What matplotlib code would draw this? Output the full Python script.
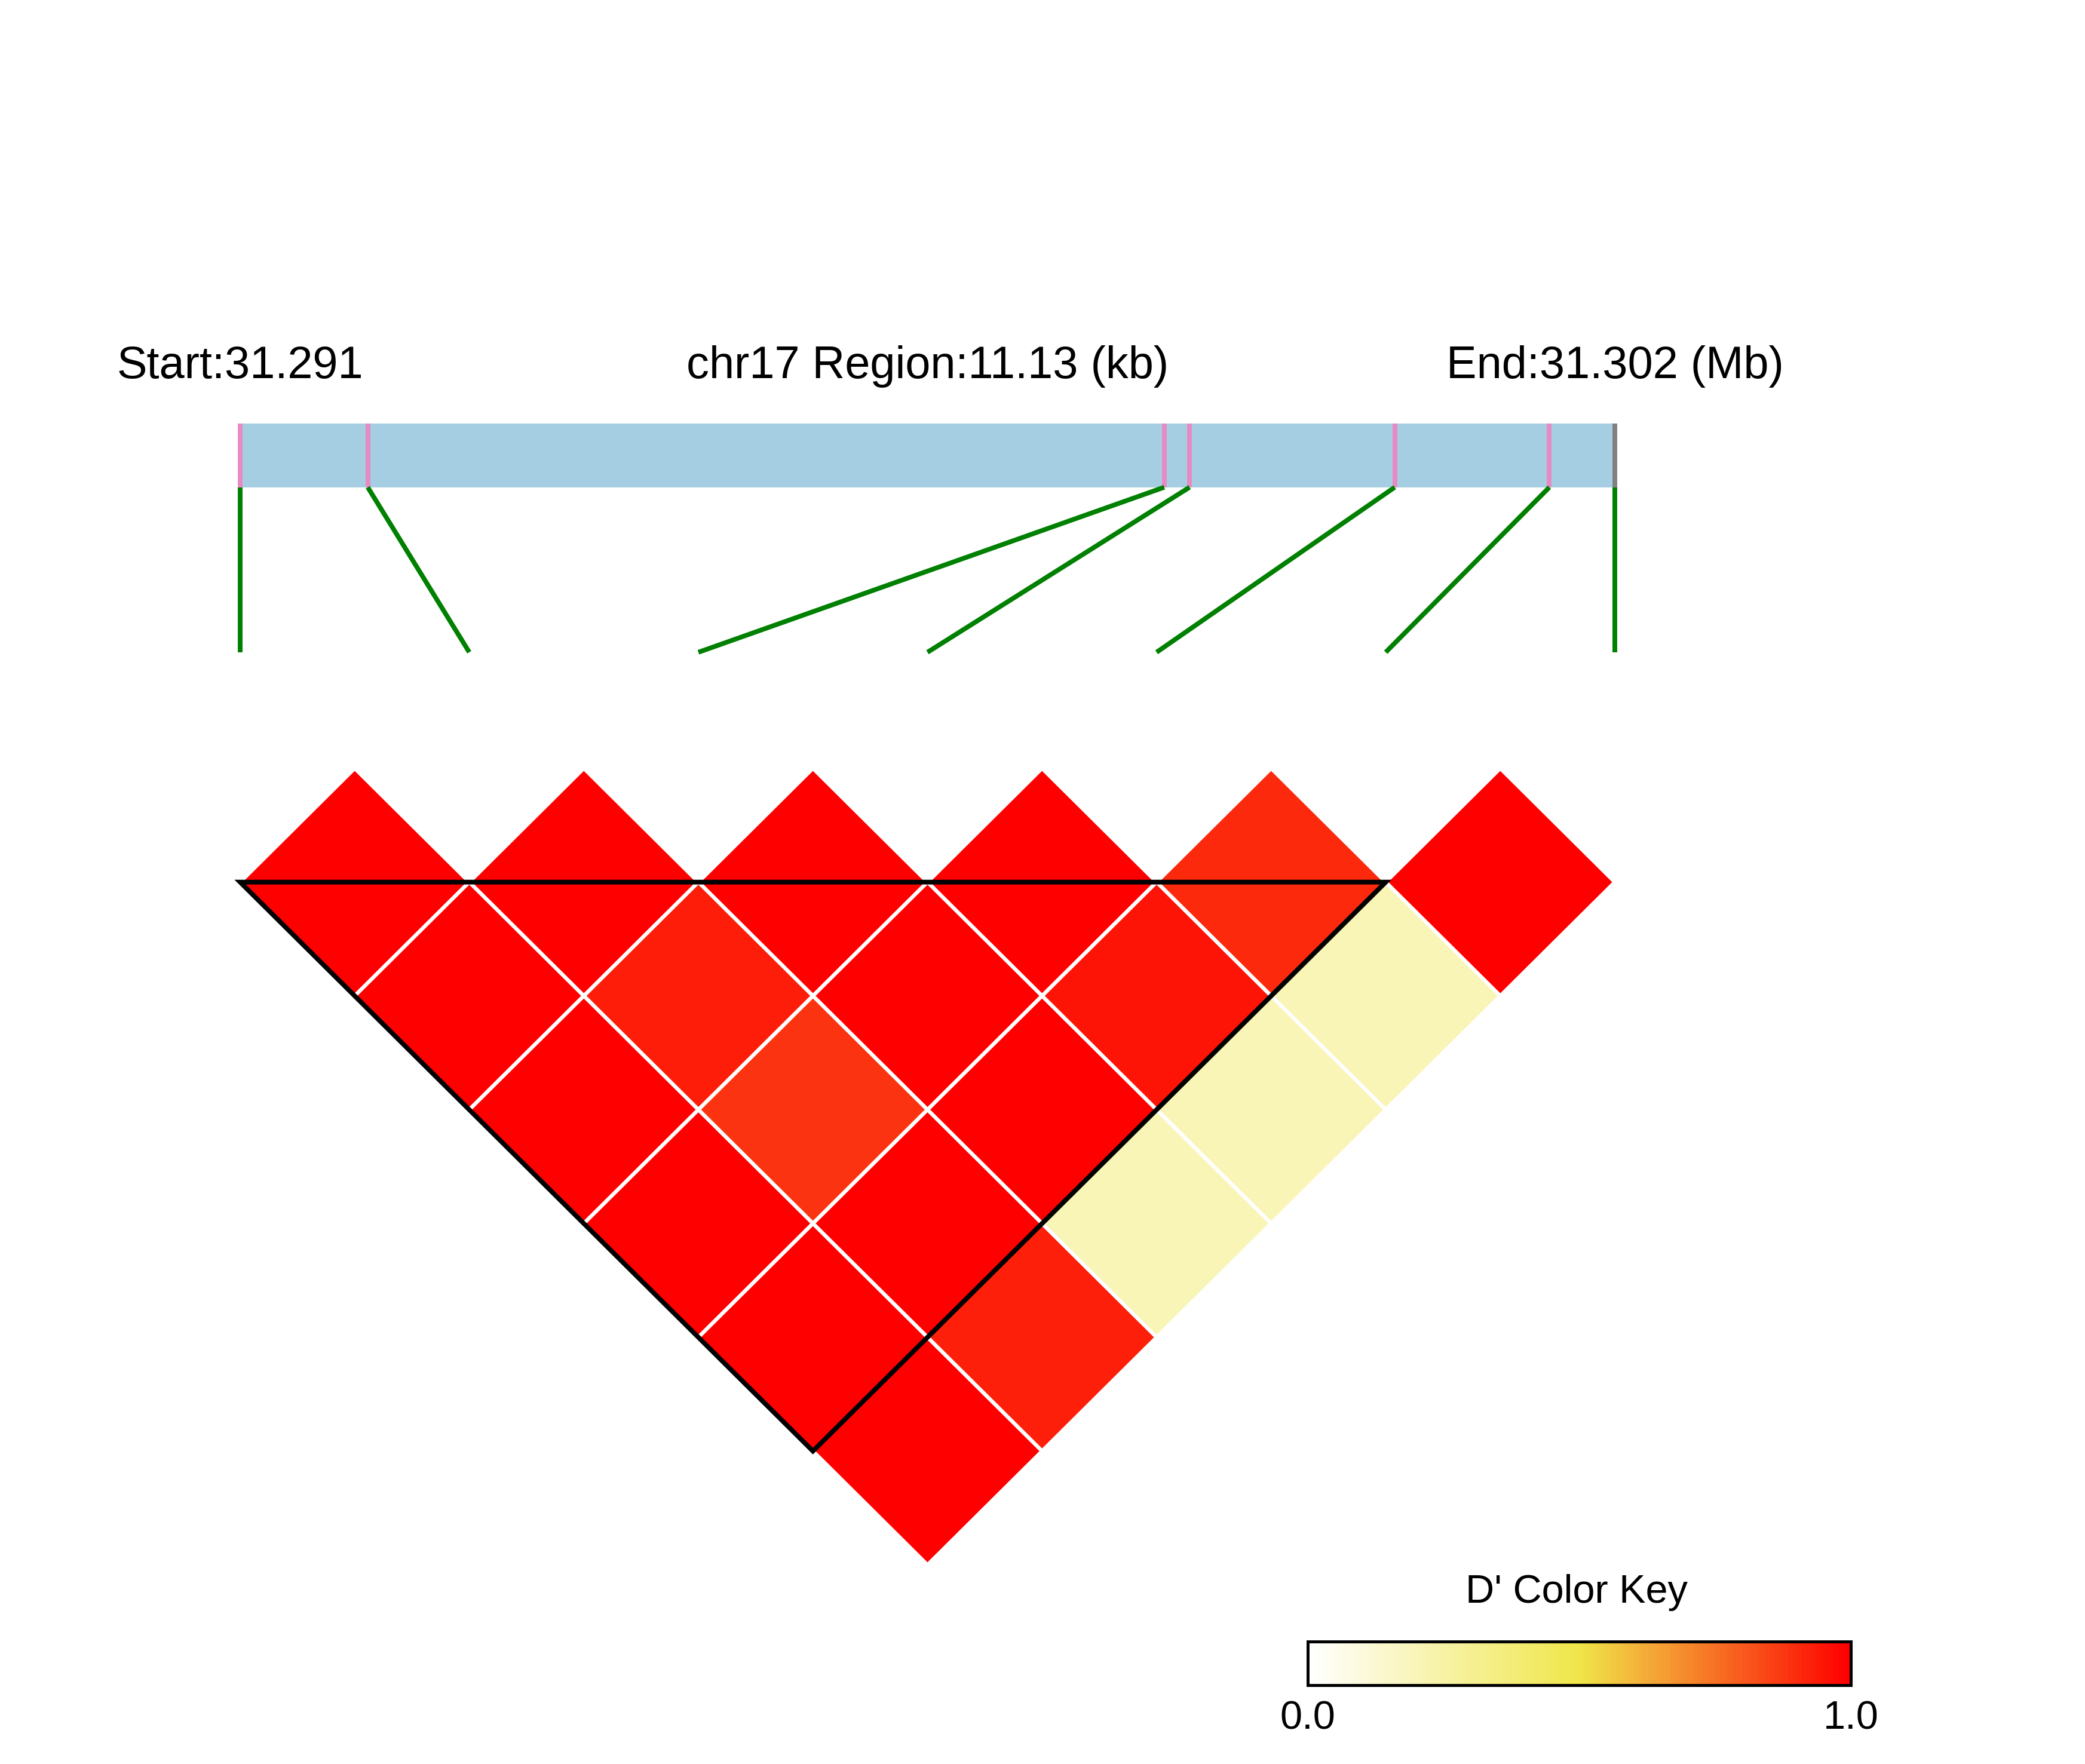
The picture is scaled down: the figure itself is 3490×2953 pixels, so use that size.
import numpy as np
import matplotlib.pyplot as plt
from matplotlib.patches import Polygon, Rectangle
from matplotlib.colors import LinearSegmentedColormap

plt.rcParams['font.family'] = ['Liberation Sans', 'DejaVu Sans']

# data
chrom = "chr17"
snp_pos = [31291020, 31292053, 31298502, 31298707, 31300368, 31301620, 31302150]
region_start = 31291020
region_end = 31302150
# D' by pair distance (row k holds pairs (i, i+k))
dprime_d1 = [1.0, 1.0, 1.0, 1.0, 0.91, 1.0]
dprime_d2 = [1.0, 0.935, 1.0, 0.955, 0.2]
dprime_d3 = [1.0, 0.89, 1.0, 0.2]
dprime_d4 = [1.0, 1.0, 0.2]
dprime_d5 = [1.0, 0.93]
dprime_d6 = [1.0]
blocks = [(0, 5)]

dprime_rows = [dprime_d1, dprime_d2, dprime_d3, dprime_d4, dprime_d5, dprime_d6]
n = len(snp_pos)
cmap = LinearSegmentedColormap.from_list('ld', ['#FFFFFF', '#F0E64A', '#FF0000'])

W, H = 3490, 2953
fig = plt.figure(figsize=(W / 300, H / 300), dpi=300)
ax = fig.add_axes([0, 0, 1, 1])
ux, uy = 383.5, 381.0   # pixels per SNP step
x0, y0 = 402.0, 1476.7  # first SNP / top row centre line in pixels
ax.set_xlim(-x0 / ux, (W - x0) / ux)
ax.set_ylim(-(H - y0) / uy, y0 / uy)
ax.axis('off')

# LD diamonds
for k, row in enumerate(dprime_rows, start=1):
    for i, v in enumerate(row):
        j = i + k
        cx = (i + j) / 2
        cy = -(k - 1) / 2
        verts = [(cx - 0.5, cy), (cx, cy + 0.5), (cx + 0.5, cy), (cx, cy - 0.5)]
        ax.add_patch(Polygon(verts, closed=True, facecolor=cmap(v),
                             edgecolor='white', linewidth=1.5, zorder=2))

# haplotype block outline
for b0, b1 in blocks:
    tri = [(b0, 0), (b1, 0), ((b0 + b1) / 2, -(b1 - b0) / 2)]
    ax.add_patch(Polygon(tri, closed=True, fill=False, edgecolor='black',
                         linewidth=1.9, joinstyle='miter', zorder=3))

# region bar with SNP ticks
bar_lo, bar_hi, link_lo = 1.735, 2.015, 1.01
span = region_end - region_start
phys_x = [(p - region_start) / span * (n - 1) for p in snp_pos]
ax.add_patch(Rectangle((0, bar_lo), n - 1, bar_hi - bar_lo, facecolor='#A6CEE3',
                       edgecolor='none', zorder=2))
for idx, px in enumerate(phys_x):
    tick_col = '#808080' if idx == n - 1 else '#E78AC3'
    ax.plot([px, px], [bar_lo, bar_hi], color=tick_col, linewidth=1.9,
            solid_capstyle='butt', zorder=3)
    ax.plot([px, idx], [bar_lo, link_lo], color='green', linewidth=1.9,
            solid_capstyle='butt', zorder=3)

ty = 2.215
ax.text(0, ty, f"Start:{region_start / 1e6:.3f}", ha='center', va='baseline', fontsize=18.2)
ax.text((n - 1) / 2, ty, f"{chrom} Region:{span / 1000:.2f} (kb)", ha='center',
        va='baseline', fontsize=18.2)
ax.text(n - 1, ty, f"End:{region_end / 1e6:.3f} (Mb)", ha='center', va='baseline',
        fontsize=18.2)

# colour key
cl, cr, ct, cb = 2188.7, 3098.0, 2748.0, 2820.7
cax = fig.add_axes([cl / W, 1 - cb / H, (cr - cl) / W, (cb - ct) / H])
grad = np.linspace(0, 1, 120)[None, :]
cax.imshow(grad, cmap=cmap, aspect='auto', extent=[0, 1, 0, 1])
cax.set_xticks([])
cax.set_yticks([])
for s in cax.spines.values():
    s.set_linewidth(1.2)
cax.text(0, -0.35, "0.0", transform=cax.transAxes, ha='center', va='top', fontsize=16)
cax.text(1, -0.35, "1.0", transform=cax.transAxes, ha='center', va='top', fontsize=16)
cax.text(0.495, 1.9, "D' Color Key", transform=cax.transAxes, ha='center',
         va='baseline', fontsize=16)

fig.savefig('out.png', dpi=300)
